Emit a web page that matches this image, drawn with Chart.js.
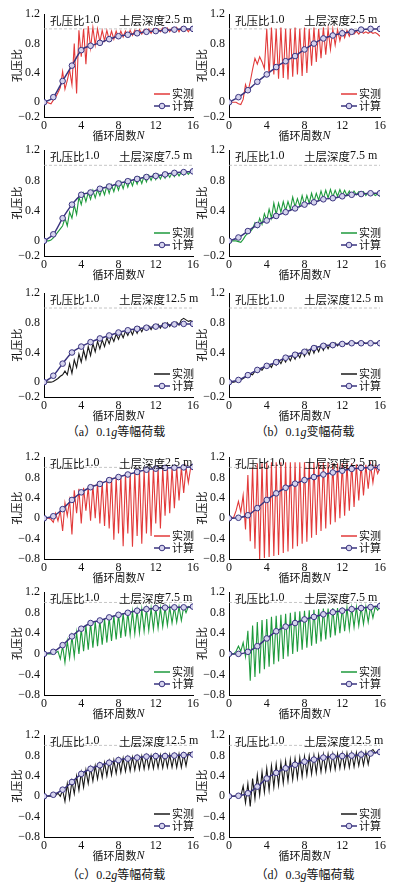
<!DOCTYPE html>
<html>
<head>
<meta charset="utf-8">
<script src="https://cdn.jsdelivr.net/npm/chart.js@4.4.1/dist/chart.umd.min.js"></script>
<style>
  body { margin: 0; background: #fff; width: 397px; height: 882px; position: relative; overflow: hidden; }
  canvas { position: absolute; }
  .cap { position: absolute; font-family: "Liberation Serif", "Noto Sans CJK SC", serif; font-size: 12px; color: #111; white-space: nowrap; transform: translateX(-50%); line-height: 16px; }
</style>
</head>
<body>
<div class="cap" style="left:116px;top:424px">（a）0.1<i>g</i>等幅荷载</div>
<div class="cap" style="left:305px;top:424px">（b）0.1<i>g</i>变幅荷载</div>
<div class="cap" style="left:116px;top:867px">（c）0.2<i>g</i>等幅荷载</div>
<div class="cap" style="left:305px;top:867px">（d）0.3<i>g</i>等幅荷载</div>
<script>
// 循环周数 (横轴)
const nGrid = [0,0.25,0.5,0.75,1,1.25,1.5,1.75,2,2.25,2.5,2.75,3,3.25,3.5,3.75,4,4.25,4.5,4.75,5,5.25,5.5,5.75,6,6.25,6.5,6.75,7,7.25,7.5,7.75,8,8.25,8.5,8.75,9,9.25,9.5,9.75,10,10.25,10.5,10.75,11,11.25,11.5,11.75,12,12.25,12.5,12.75,13,13.25,13.5,13.75,14,14.25,14.5,14.75,15,15.25,15.5,15.75,16];
const nCalc = [0,1,2,3,4,5,6,7,8,9,10,11,12,13,14,15,16];
const xTicks = [0, 4, 8, 12, 16];
const yTicksSmall = [-0.2, 0, 0.4, 0.8, 1.2];
const yTicksLarge = [-0.8, -0.4, 0, 0.4, 0.8, 1.2];
const refLevel = 1.0;
const depths = ['2.5', '7.5', '12.5'];

// 实测 (0.1g 等幅 / 变幅)
const measA1 = [0,0,-0.01,-0.02, 0.03,0.07,0.13,0.2, 0.42,0.18,0.3,0.44, 0.24,0.8,0.12,0.98, 0.62,1.0,0.52,1.04, 0.74,1.02,0.78,1.0, 0.82,0.98,0.84,0.98, 0.85,0.97,0.86,0.97, 0.88,0.97,0.89,0.97, 0.9,0.98,0.91,0.98, 0.92,0.99,0.93,0.99, 0.94,1.0,0.94,1.0, 0.95,1.0,0.96,1.01, 0.96,1.01,0.96,1.01, 0.96,1.02,0.96,1.02, 0.97,1.01,0.96,1.01, 0.98];
const measB1 = [0,0,0,0, -0.02,-0.03,0.04,0.24, 0.14,0.28,0.45,0.6, 0.52,0.62,0.55,0.46, 1.0,0.36,1.02,0.38, 1.0,0.32,1.02,0.33, 1.0,0.31,1.0,0.35, 1.02,0.38,1.0,0.36, 1.02,0.4,1.0,0.5, 1.02,0.55,1.0,0.6, 1.02,0.65,1.0,0.72, 1.0,0.78,0.99,0.84, 0.98,0.88,0.98,0.9, 0.98,0.93,0.97,0.93, 0.97,0.94,0.96,0.94, 0.96,0.94,0.95,0.93, 0.9];
const measA2 = [0,0,0,0.01, 0.04,0.08,0.12,0.16, 0.2,0.3,0.2,0.38, 0.3,0.47,0.35,0.58, 0.48,0.63,0.52,0.64, 0.55,0.67,0.57,0.68, 0.6,0.7,0.61,0.73, 0.63,0.74,0.65,0.76, 0.67,0.78,0.69,0.8, 0.71,0.81,0.73,0.83, 0.75,0.84,0.76,0.86, 0.78,0.87,0.8,0.88, 0.81,0.88,0.82,0.89, 0.83,0.9,0.84,0.9, 0.85,0.91,0.86,0.91, 0.87,0.92,0.88,0.92, 0.91];
const measB2 = [0,0,0,0, -0.01,-0.02,0.02,0.07, 0.1,0.12,0.16,0.24, 0.18,0.3,0.22,0.36, 0.27,0.42,0.3,0.5, 0.35,0.5,0.38,0.52, 0.4,0.52,0.42,0.58, 0.45,0.56,0.46,0.6, 0.48,0.6,0.5,0.63, 0.52,0.63,0.54,0.66, 0.56,0.67,0.57,0.68, 0.58,0.67,0.59,0.68, 0.6,0.67,0.6,0.66, 0.6,0.66,0.61,0.65, 0.61,0.65,0.6,0.64, 0.6,0.63,0.6,0.62, 0.59];
const measA3 = [0,0,0,0, 0.01,0.03,0.05,0.08, 0.1,0.15,0.1,0.25, 0.12,0.3,0.2,0.38, 0.27,0.43,0.31,0.48, 0.36,0.52,0.41,0.55, 0.45,0.57,0.48,0.6, 0.52,0.62,0.55,0.65, 0.58,0.67,0.6,0.69, 0.63,0.71,0.64,0.73, 0.66,0.74,0.68,0.75, 0.7,0.76,0.71,0.77, 0.72,0.78,0.73,0.79, 0.74,0.8,0.75,0.8, 0.76,0.81,0.77,0.84, 0.86,0.84,0.82,0.83, 0.81];
const measB3 = [0,0,0,0.01, 0.02,0.03,0.05,0.07, 0.08,0.11,0.1,0.15, 0.13,0.18,0.16,0.21, 0.19,0.24,0.2,0.27, 0.23,0.3,0.25,0.32, 0.27,0.35,0.29,0.37, 0.31,0.39,0.33,0.42, 0.35,0.44,0.37,0.47, 0.39,0.48,0.41,0.5, 0.43,0.51,0.45,0.52, 0.47,0.53,0.49,0.53, 0.5,0.53,0.51,0.54, 0.51,0.54,0.52,0.54, 0.52,0.54,0.52,0.53, 0.52,0.53,0.52,0.53, 0.52];

// 实测 (0.2g / 0.3g 等幅)
const measC1 = [0,0,0,-0.02, -0.08,0.1,-0.05,0.15, -0.25,0.3,0.05,0.35, -0.32,0.55,0.1,0.58, -0.1,0.6,0.15,0.62, -0.05,0.66,0.0,0.7, -0.1,0.72,-0.15,0.76, -0.2,0.8,-0.42,0.82, -0.3,0.85,-0.55,0.88, -0.3,0.9,-0.56,0.93, -0.35,0.95,-0.5,0.97, -0.3,0.98,-0.35,1.0, -0.1,1.0,-0.2,1.0, 0.05,1.0,0.1,1.0, 0.2,1.0,0.35,1.0, 0.5,1.0,0.7,1.0, 0.95];
const measD1 = [0,0,0.02,0.15, 0.33,0.12,0.45,-0.22, 0.85,-0.45,1.0,-0.6, 1.08,-0.82,1.08,-0.78, 1.1,-0.76,1.1,-0.74, 1.1,-0.72,1.1,-0.68, 1.1,-0.65,1.1,-0.6, 1.1,-0.55,1.1,-0.5, 1.1,-0.46,1.1,-0.38, 1.1,-0.33,1.1,-0.25, 1.1,-0.2,1.1,-0.12, 1.08,-0.08,1.08,0.0, 1.08,0.05,1.08,0.15, 1.08,0.22,1.06,0.35, 1.06,0.45,1.05,0.58, 1.05,0.7,1.04,0.88, 1.0];
const measC2 = [0,0,0,0, 0.01,0.02,0.05,-0.1, 0.15,-0.17,0.25,-0.08, 0.34,-0.05,0.42,0.0, 0.49,0.05,0.55,0.08, 0.6,0.12,0.63,0.15, 0.66,0.18,0.68,0.22, 0.71,0.25,0.74,0.28, 0.77,0.31,0.79,0.34, 0.81,0.37,0.83,0.39, 0.85,0.41,0.87,0.44, 0.88,0.46,0.89,0.48, 0.9,0.5,0.9,0.53, 0.91,0.56,0.91,0.6, 0.91,0.62,0.92,0.65, 0.92,0.8,0.92,0.9, 0.92];
const measD2 = [0,0,0,0.05, 0.15,0.05,0.22,-0.05, 0.45,-0.52,0.55,-0.45, 0.62,-0.38,0.66,-0.3, 0.68,-0.25,0.72,-0.2, 0.74,-0.15,0.76,-0.1, 0.78,-0.05,0.8,0.0, 0.82,0.04,0.83,0.08, 0.84,0.12,0.85,0.16, 0.86,0.2,0.87,0.24, 0.88,0.28,0.88,0.32, 0.89,0.36,0.89,0.4, 0.9,0.44,0.9,0.48, 0.9,0.52,0.91,0.55, 0.91,0.58,0.92,0.62, 0.92,0.7,0.92,0.85, 0.93];
const measC3 = [0,0,0,0, 0,0.02,0.06,0.0, 0.12,-0.1,0.25,-0.05, 0.3,0.05,0.4,0.12, 0.47,0.18,0.52,0.25, 0.56,0.3,0.6,0.34, 0.63,0.37,0.66,0.4, 0.69,0.42,0.71,0.45, 0.73,0.47,0.75,0.49, 0.76,0.5,0.77,0.52, 0.78,0.53,0.79,0.54, 0.8,0.55,0.8,0.55, 0.81,0.56,0.81,0.56, 0.82,0.57,0.82,0.57, 0.82,0.57,0.83,0.57, 0.83,0.6,0.85,0.86, 0.83];
const measD3 = [0,0,0,0.01, 0.05,0.0,0.2,-0.13, 0.25,-0.2,0.35,-0.05, 0.42,0.02,0.48,0.08, 0.55,0.12,0.6,0.18, 0.63,0.22,0.66,0.26, 0.69,0.3,0.72,0.33, 0.74,0.36,0.76,0.39, 0.78,0.42,0.79,0.44, 0.8,0.46,0.81,0.48, 0.82,0.5,0.83,0.52, 0.83,0.53,0.84,0.55, 0.84,0.56,0.85,0.57, 0.85,0.58,0.86,0.6, 0.86,0.61,0.87,0.63, 0.88,0.92,0.85,0.88, 0.86];

// 计算
const calcA1 = [0,0.07,0.29,0.5,0.71,0.77,0.81,0.86,0.9,0.92,0.94,0.96,0.97,0.98,0.99,1.0,1.0];
const calcB1 = [0,0.07,0.165,0.28,0.38,0.48,0.56,0.63,0.72,0.8,0.87,0.91,0.94,0.96,0.99,1.0,1.0];
const calcA2 = [0,0.087,0.3,0.48,0.61,0.64,0.69,0.72,0.76,0.79,0.82,0.845,0.86,0.88,0.9,0.91,0.92];
const calcB2 = [0,0.045,0.13,0.21,0.27,0.33,0.38,0.43,0.48,0.51,0.55,0.565,0.59,0.61,0.62,0.63,0.63];
const calcA3 = [0,0.087,0.25,0.4,0.48,0.54,0.59,0.63,0.67,0.7,0.72,0.735,0.75,0.765,0.78,0.786,0.786];
const calcB3 = [0,0.03,0.095,0.165,0.22,0.27,0.33,0.37,0.41,0.46,0.49,0.5,0.515,0.525,0.525,0.525,0.525];
const calcC1 = [0,0.04,0.18,0.36,0.51,0.61,0.675,0.75,0.81,0.86,0.91,0.955,0.975,0.99,0.995,1.0,1.01];
const calcD1 = [0,0.01,0.06,0.2,0.36,0.49,0.6,0.68,0.75,0.81,0.86,0.9,0.935,0.97,0.99,1.0,1.0];
const calcC2 = [0,0.04,0.17,0.34,0.49,0.6,0.65,0.71,0.76,0.8,0.84,0.87,0.89,0.9,0.905,0.905,0.92];
const calcD2 = [0,0.0,0.04,0.15,0.3,0.44,0.53,0.6,0.67,0.72,0.77,0.81,0.84,0.87,0.89,0.91,0.93];
const calcC3 = [0,0.03,0.13,0.28,0.44,0.54,0.61,0.66,0.71,0.74,0.76,0.78,0.79,0.79,0.8,0.81,0.82];
const calcD3 = [0,0.01,0.06,0.19,0.35,0.46,0.55,0.62,0.68,0.72,0.76,0.78,0.79,0.8,0.82,0.84,0.87];

const RED = '#e23a3a', GREEN = '#1e9a3c', BLACK = '#1a1a1a', CALC = '#3a347f';
const NUM = "'Liberation Serif', 'DejaVu Serif', serif";
const CJK = "'Noto Sans CJK SC', sans-serif";

// 各子图: 行, 列, 数据
const panels = [
  { row: 0, col: 0, meas: measA1, calc: calcA1, color: RED, depth: depths[0], yt: yTicksSmall },
  { row: 0, col: 1, meas: measB1, calc: calcB1, color: RED, depth: depths[0], yt: yTicksSmall },
  { row: 1, col: 0, meas: measA2, calc: calcA2, color: GREEN, depth: depths[1], yt: yTicksSmall },
  { row: 1, col: 1, meas: measB2, calc: calcB2, color: GREEN, depth: depths[1], yt: yTicksSmall },
  { row: 2, col: 0, meas: measA3, calc: calcA3, color: BLACK, depth: depths[2], yt: yTicksSmall },
  { row: 2, col: 1, meas: measB3, calc: calcB3, color: BLACK, depth: depths[2], yt: yTicksSmall },
  { row: 3, col: 0, meas: measC1, calc: calcC1, color: RED, depth: depths[0], yt: yTicksLarge },
  { row: 3, col: 1, meas: measD1, calc: calcD1, color: RED, depth: depths[0], yt: yTicksLarge },
  { row: 4, col: 0, meas: measC2, calc: calcC2, color: GREEN, depth: depths[1], yt: yTicksLarge },
  { row: 4, col: 1, meas: measD2, calc: calcD2, color: GREEN, depth: depths[1], yt: yTicksLarge },
  { row: 5, col: 0, meas: measC3, calc: calcC3, color: BLACK, depth: depths[2], yt: yTicksLarge },
  { row: 5, col: 1, meas: measD3, calc: calcD3, color: BLACK, depth: depths[2], yt: yTicksLarge }
];

// 绘图区位置 (像素)
const rowsTB = [[11, 117], [147, 256], [290, 397], [454, 559], [589, 695], [732, 837]];
const colsLR = [[44, 193], [229, 380]];
const Y_W = 44, PAD_T = 8, PAD_R = 9, X_H = 30;

function fmtY(v) {
  if (v === 0) return '0';
  return (v < 0 ? '\u2212' : '') + Math.abs(v).toFixed(1);
}

// 文字片段 (中文 + 数字混排)
function runWidth(ctx, parts) {
  let w = 0;
  parts.forEach(p => { ctx.font = p[1]; w += ctx.measureText(p[0]).width; });
  return w;
}
function drawRun(ctx, parts, x, y) {
  parts.forEach(p => {
    ctx.font = p[1];
    ctx.fillText(p[0], x, y);
    x += ctx.measureText(p[0]).width;
  });
}

const overlay = {
  id: 'overlay',
  afterDatasetsDraw(chart, args, o) {
    const ctx = chart.ctx, a = chart.chartArea;
    ctx.save();
    ctx.fillStyle = '#111';
    ctx.textBaseline = 'middle';
    ctx.textAlign = 'left';
    drawRun(ctx, [['孔压比', '11.5px ' + CJK], ['1.0', '12px ' + NUM]], a.left + 6, a.top + 6);
    drawRun(ctx, [['土层深度', '11.5px ' + CJK], [o.depth + ' m', '12px ' + NUM]], a.left + 75, a.top + 6);

    // 图例
    const y1 = a.bottom - 23, y2 = a.bottom - 11;
    const x0 = a.right - 39, x1 = a.right - 23;
    ctx.lineWidth = 1.5;
    ctx.strokeStyle = o.color;
    ctx.beginPath(); ctx.moveTo(x0, y1); ctx.lineTo(x1, y1); ctx.stroke();
    ctx.strokeStyle = CALC;
    ctx.beginPath(); ctx.moveTo(x0, y2); ctx.lineTo(x1, y2); ctx.stroke();
    ctx.fillStyle = '#d6d4ee';
    ctx.lineWidth = 1;
    ctx.beginPath(); ctx.arc((x0 + x1) / 2, y2, 2.8, 0, Math.PI * 2); ctx.fill(); ctx.stroke();
    ctx.fillStyle = '#111';
    ctx.font = '11px ' + CJK;
    ctx.fillText('实测', a.right - 21, y1);
    ctx.fillText('计算', a.right - 21, y2);

    // 横轴标题
    const parts = [['循环周数', '11px ' + CJK], ['N', 'italic 12px ' + NUM]];
    const w = runWidth(ctx, parts);
    drawRun(ctx, parts, (a.left + a.right) / 2 - w / 2, a.bottom + 19);
    ctx.restore();
  }
};

panels.forEach(p => {
  const [L, R] = colsLR[p.col];
  const [T, B] = rowsTB[p.row];
  const cv = document.createElement('canvas');
  cv.width = (R - L) + Y_W + PAD_R;
  cv.height = (B - T) + PAD_T + X_H;
  cv.style.left = (L - Y_W) + 'px';
  cv.style.top = (T - PAD_T) + 'px';
  document.body.appendChild(cv);

  new Chart(cv, {
    type: 'line',
    data: {
      datasets: [
        {
          label: '计算',
          data: nCalc.map((x, i) => ({ x: x, y: p.calc[i] })),
          borderColor: CALC,
          borderWidth: 1.5,
          pointRadius: 2.8,
          pointBackgroundColor: '#d6d4ee',
          pointBorderColor: CALC,
          pointBorderWidth: 1,
          cubicInterpolationMode: 'monotone'
        },
        {
          label: '实测',
          data: nGrid.map((x, i) => ({ x: x, y: p.meas[i] })),
          borderColor: p.color,
          borderWidth: 1.1,
          pointRadius: 0,
          tension: 0
        },
        {
          label: 'ref',
          data: [{ x: 0, y: refLevel }, { x: 16, y: refLevel }],
          borderColor: '#b8b8b8',
          borderWidth: 0.8,
          borderDash: [3, 2],
          pointRadius: 0
        }
      ]
    },
    options: {
      responsive: false,
      animation: false,
      devicePixelRatio: 1,
      layout: { padding: { top: PAD_T, right: PAD_R, left: 0, bottom: 0 } },
      plugins: {
        legend: { display: false },
        tooltip: { enabled: false },
        overlay: { depth: p.depth, color: p.color }
      },
      scales: {
        x: {
          type: 'linear',
          min: 0, max: 16,
          afterBuildTicks: s => { s.ticks = xTicks.map(v => ({ value: v })); },
          afterFit: s => { s.height = X_H; },
          grid: { display: false, drawTicks: false },
          border: { color: '#000', width: 1 },
          ticks: { font: { family: NUM, size: 12 }, color: '#111', padding: 2, maxRotation: 0, autoSkip: false, callback: v => String(v) }
        },
        y: {
          min: p.yt[0], max: 1.2,
          afterBuildTicks: s => { s.ticks = p.yt.map(v => ({ value: v })); },
          afterFit: s => { s.width = Y_W; },
          grid: { display: false, drawTicks: false },
          border: { color: '#000', width: 1 },
          ticks: { font: { family: NUM, size: 12 }, color: '#111', padding: 4, autoSkip: false, callback: v => fmtY(v) },
          title: { display: true, text: '孔压比', font: { family: CJK, size: 11 }, color: '#111', padding: { top: 10, bottom: 0 } }
        }
      }
    },
    plugins: [overlay]
  });
});
</script>
</body>
</html>
